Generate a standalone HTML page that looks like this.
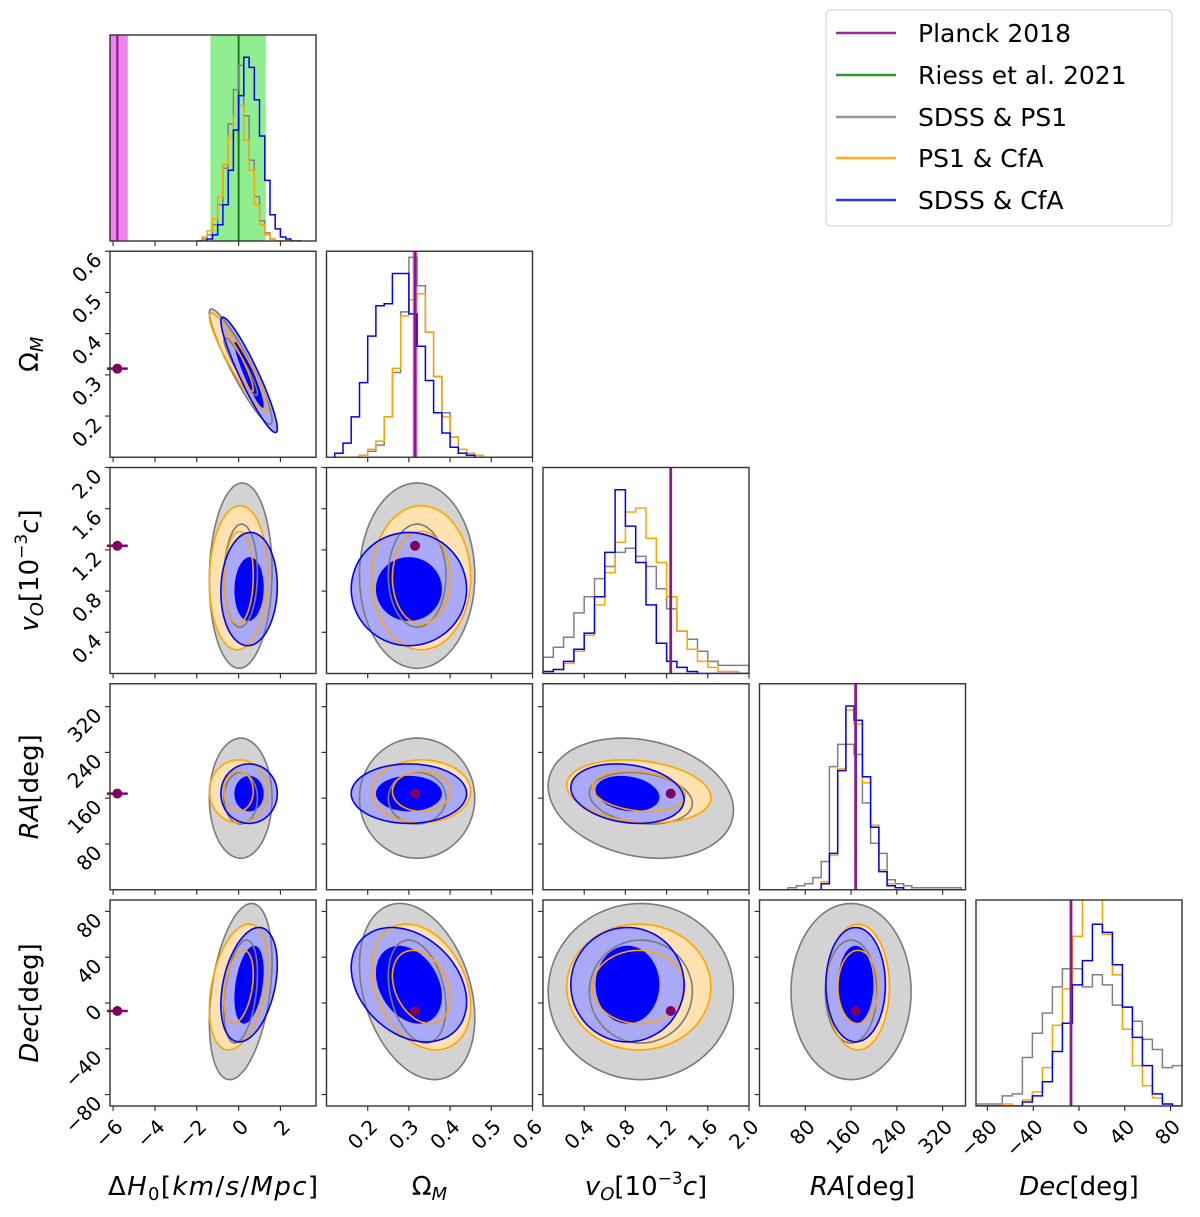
<!DOCTYPE html>
<html><head><meta charset="utf-8"><style>
html,body{margin:0;padding:0;background:#fff;}
svg{display:block;font-family:"DejaVu Sans","Liberation Sans",sans-serif;}
</style></head><body>
<svg id="chart" width="1200" height="1217" viewBox="0 0 1200 1217" xmlns="http://www.w3.org/2000/svg">
<defs id="defs"></defs>
<g id="panels"></g>
<g id="legend">
  <rect x="826" y="10" width="346" height="216" rx="5" fill="#fff" stroke="#d6d6d6" stroke-width="1.2"/>
  <g><line x1="836" y1="33" x2="896" y2="33" stroke="#9a2a9a" stroke-width="2.5"/><text x="918" y="42" font-size="25">Planck 2018</text></g>
  <g><line x1="836" y1="75" x2="896" y2="75" stroke="#2f9a2f" stroke-width="2.5"/><text x="918" y="84" font-size="25">Riess et al. 2021</text></g>
  <g><line x1="836" y1="117" x2="896" y2="117" stroke="#999" stroke-width="2.5"/><text x="918" y="126" font-size="25">SDSS &amp; PS1</text></g>
  <g><line x1="836" y1="158" x2="896" y2="158" stroke="#ffae1a" stroke-width="2.5"/><text x="918" y="167" font-size="25">PS1 &amp; CfA</text></g>
  <g><line x1="836" y1="200" x2="896" y2="200" stroke="#3030ff" stroke-width="2.5"/><text x="918" y="209" font-size="25">SDSS &amp; CfA</text></g>
</g>
</svg>
<script>
// ---- data ----
const paramNames = ["H0","OmegaM","vO","RA","Dec"];
const paramRanges = [[-6.15,3.7],[0.1,0.6],[0,2],[0,360],[-90,90]];
const xTickValues = [[-6,-4,-2,0,2],[0.2,0.3,0.4,0.5,0.6],[0.4,0.8,1.2,1.6,2.0],[80,160,240,320],[-80,-40,0,40,80]];
const xTickLabels = [["−6","−4","−2","0","2"],["0.2","0.3","0.4","0.5","0.6"],["0.4","0.8","1.2","1.6","2.0"],["80","160","240","320"],["−80","−40","0","40","80"]];
const planckValues = [-5.8,0.315,1.24,168,-7];
const planckH0Band = [-6.3,-5.3];
const planckOmBand = [0.309,0.321];
const riessValue = 0;
const riessBand = [-1.35,1.3];
const planckH0Err = 0.5;
// histogram bins: [start, width]
const histBins = [[-2.0,0.25],[0.12,0.02],[0,0.1],[7,14.4],[-93.2,8.74]];
const histGrey = [
 [0,0.01,0.03,0.08,0.18,0.36,0.58,0.75,0.87,0.62,0.40,0.22,0.10,0.04,0.01,0,0,0,0,0],
 [0,0,0,0.01,0.03,0.06,0.2,0.42,0.72,0.99,0.85,0.62,0.40,0.22,0.10,0.04,0.01,0],
 [0.08,0.13,0.18,0.30,0.38,0.47,0.53,0.6,0.62,0.58,0.53,0.42,0.32,0.21,0.17,0.11,0.06,0.04,0.04,0.04],
 [0,0,0,0.01,0.02,0.03,0.06,0.14,0.61,0.72,0.72,0.67,0.43,0.23,0.18,0.05,0.03,0.02,0.01,0.01,0.01,0.01,0.01,0.01],
 [0.01,0.01,0.01,0.05,0.06,0.24,0.36,0.46,0.59,0.68,0.68,0.59,0.65,0.6,0.5,0.49,0.42,0.33,0.28,0.19,0.2]
];
const histOrange = [
 [0,0.02,0.05,0.11,0.22,0.38,0.52,0.62,0.67,0.50,0.35,0.18,0.08,0.03,0.01,0,0,0,0,0],
 [0,0,0,0.01,0.04,0.08,0.20,0.44,0.70,0.78,0.81,0.62,0.40,0.20,0.10,0.04,0.02,0.01],
 [0.01,0.02,0.05,0.11,0.19,0.34,0.50,0.65,0.80,0.82,0.67,0.55,0.38,0.21,0.12,0.06,0.03,0.01,0.01,0],
 [0,0,0,0,0,0,0,0.04,0.17,0.6,0.89,0.82,0.53,0.32,0.1,0.03,0.01,0,0,0,0,0,0,0],
 [0,0,0,0.01,0,0.03,0.07,0.19,0.4,0.58,0.84,1.05,1.05,0.85,0.65,0.38,0.2,0.1,0.04,0.01,0]
];
const histBlue = [
 [0,0,0.01,0.03,0.08,0.18,0.35,0.55,0.72,0.91,0.86,0.70,0.52,0.30,0.13,0.06,0.02,0.01,0,0],
 [0.02,0.07,0.20,0.37,0.60,0.75,0.76,0.91,0.91,0.71,0.55,0.38,0.22,0.12,0.05,0.02,0.01,0],
 [0.01,0.02,0.06,0.12,0.2,0.38,0.6,0.91,0.73,0.55,0.34,0.15,0.06,0.03,0.01,0,0,0,0,0],
 [0,0,0,0,0,0,0,0.03,0.18,0.59,0.91,0.84,0.56,0.31,0.09,0.02,0.01,0,0,0,0,0,0,0],
 [0,0,0,0,0,0.02,0.05,0.12,0.27,0.41,0.6,0.72,0.9,0.86,0.7,0.49,0.34,0.2,0.06,0.01,0]
];
// contour summaries per param: [center, innerHalfWidth, outerHalfWidth]
const contourGrey = [[0.1,0.8,1.5],[0.32,0.07,0.14],[0.95,0.5,0.9],[160,45,105],[10,45,77]];
const contourOrange = [[0.0,0.7,1.4],[0.33,0.07,0.12],[0.93,0.45,0.7],[172,35,55],[14,32,55]];
const contourBlue = [[0.5,0.7,1.35],[0.30,0.08,0.14],[0.82,0.31,0.55],[168,31,52],[16,34,50]];
// correlation per pair "i-j"
const pairCorr = {"0-1":-0.93,"0-2":0.05,"0-3":0,"0-4":0.35,"1-2":0,"1-3":0,"1-4":-0.3,"2-3":-0.2,"2-4":0,"3-4":0};

// ---- layout ----
const NS="http://www.w3.org/2000/svg";
const PX0=110, PSTEP=216.5, PY0=35, PYSTEP=216.25, PW=206;
function colX(i){return PX0+PSTEP*i;}
function rowY(j){return PY0+PYSTEP*j;}
function sx(p,v){const r=paramRanges[p];return colX(p)+(v-r[0])/(r[1]-r[0])*PW;}
function sy(p,row,v){const r=paramRanges[p];return rowY(row)+PW-(v-r[0])/(r[1]-r[0])*PW;}
function hy(row,v){return rowY(row)+PW-v*PW*0.98;}
function mk(tag,attrs,parent){const e=document.createElementNS(NS,tag);for(const k in attrs)e.setAttribute(k,attrs[k]);if(parent)parent.appendChild(e);return e;}
const panels=document.getElementById('panels');
const defs=document.getElementById('defs');

function ellipsePath(px,py,row,cx,cy,ax,ay,rho){
  let d="";const s=Math.sqrt(1-rho*rho);
  for(let k=0;k<=72;k++){const t=k/72*2*Math.PI;
    const x=cx+ax*Math.cos(t), y=cy+ay*(rho*Math.cos(t)+s*Math.sin(t));
    d+=(k?"L":"M")+sx(px,x).toFixed(1)+","+sy(py,row,y).toFixed(1);}
  return d+"Z";
}
function stepPath(p,row,vals){
  const b=histBins[p];let d="M"+sx(p,b[0]).toFixed(1)+","+hy(row,0).toFixed(1);
  vals.forEach((v,k)=>{const x0=sx(p,b[0]+k*b[1]),x1=sx(p,b[0]+(k+1)*b[1]);
    d+="L"+x0.toFixed(1)+","+hy(row,v).toFixed(1)+"L"+x1.toFixed(1)+","+hy(row,v).toFixed(1);});
  d+="L"+sx(p,b[0]+vals.length*b[1]).toFixed(1)+","+hy(row,0).toFixed(1);
  return d;
}

for(let row=0;row<5;row++){
  for(let col=0;col<=row;col++){
    const x0=colX(col), y0=rowY(row);
    const g=mk('g',{},panels);
    
    
    const cid='clip'+row+'_'+col;
    const cp=mk('clipPath',{id:cid},defs);mk('rect',{x:x0,y:y0,width:PW,height:PW},cp);
    const inner=mk('g',{'clip-path':'url(#'+cid+')'},g);
    if(row===col){
      const p=col;
      if(p===0){
        const b1=mk('rect',{x:sx(0,planckH0Band[0]),y:y0,width:sx(0,planckH0Band[1])-sx(0,planckH0Band[0]),height:PW,fill:'#ee82ee'},inner);
        
        const b2=mk('rect',{x:sx(0,riessBand[0]),y:y0,width:sx(0,riessBand[1])-sx(0,riessBand[0]),height:PW,fill:'#90ee90'},inner);
        
        const rl=mk('line',{x1:sx(0,riessValue),x2:sx(0,riessValue),y1:y0,y2:y0+PW,stroke:'#1f7a1f','stroke-width':2},inner);
        
      }
      if(p===1){
        const b=mk('rect',{x:sx(1,planckOmBand[0]),y:y0,width:sx(1,planckOmBand[1])-sx(1,planckOmBand[0]),height:PW,fill:'#ee82ee'},inner);
        
      }
      [[histGrey,'#808080'],[histOrange,'#ffa500'],[histBlue,'#0000ff']].forEach(([h,c])=>{
        const path=mk('path',{d:stepPath(p,row,h[p]),fill:'none',stroke:c,'stroke-width':1.5},inner);
        
      });
      const pl=mk('line',{x1:sx(p,planckValues[p]),x2:sx(p,planckValues[p]),y1:y0,y2:y0+PW,stroke:'#8b1a8b','stroke-width':p===0?2.2:2.8},inner);
      
    } else {
      const px=col, py=row, rho=pairCorr[px+'-'+py];
      const sets=[[contourGrey,'#d3d3d3','#8c8c8c','#7a7a7a'],[contourOrange,'#ffe2b0',null,'#ffa500'],[contourBlue,'#a9a9f5','#0000ff','#0000ff']];
      sets.forEach(([c,fo,fi])=>{
        const o=mk('path',{d:ellipsePath(px,py,row,c[px][0],c[py][0],c[px][2],c[py][2],rho),fill:fo},inner);
        
        if(fi){const i=mk('path',{d:ellipsePath(px,py,row,c[px][0],c[py][0],c[px][1],c[py][1],rho),fill:fi},inner);
          }
      });
      sets.forEach(([c,fo,fi,lc])=>{
        [2,1].forEach(k=>{
          if(lc==='#0000ff'&&k===1)return;
          const l=mk('path',{d:ellipsePath(px,py,row,c[px][0],c[py][0],c[px][k],c[py][k],rho),fill:'none',stroke:lc,'stroke-width':1.6},inner);
          
        });
      });
      const cx=col===0?sx(0,planckValues[0]):sx(px,planckValues[px]);
      const cy=sy(py,row,planckValues[py]);
      if(col===0){
        const eb=mk('line',{x1:sx(0,planckValues[0]-planckH0Err),x2:sx(0,planckValues[0]+planckH0Err),y1:cy,y2:cy,stroke:'#800080','stroke-width':2.5},g);
        
      }
      const dot=mk('circle',{cx:cx,cy:cy,r:5,fill:'#800060'},g);
      
    }
    const fr=mk('rect',{x:x0,y:y0,width:PW,height:PW,fill:'none',stroke:'#333','stroke-width':1.4},g);
    
    // x ticks
    xTickValues[col].forEach((v,k)=>{
      const tx=sx(col,v);
      if(tx<x0-1||tx>x0+PW+1)return;
      mk('line',{x1:tx,x2:tx,y1:y0+PW,y2:y0+PW+5,stroke:'#333','stroke-width':1.2},g);
      if(row===4){
        const t=mk('text',{x:tx+11,y:y0+PW+22,'font-size':20,'text-anchor':'end',transform:'rotate(-45 '+(tx+11)+' '+(y0+PW+22)+')'},g);
        t.textContent=xTickLabels[col][k];
        
        
      }
    });
    // y ticks
    if(row!==col){
      xTickValues[row].forEach((v,k)=>{
        const ty=sy(row,row,v);
        if(ty<y0-1||ty>y0+PW+1)return;
        mk('line',{x1:x0-5,x2:x0,y1:ty,y2:ty,stroke:'#333','stroke-width':1.2},g);
        if(col===0){
          const t=mk('text',{x:x0-7,y:ty+10,'font-size':20,'text-anchor':'end',transform:'rotate(-45 '+(x0-7)+' '+(ty+10)+')'},g);
          t.textContent=xTickLabels[row][k];
          
          
        }
      });
    }
  }
}
// axis titles
const xTitles=[
 '<tspan>Δ</tspan><tspan font-style="italic">H</tspan><tspan font-size="18" dy="5">0</tspan><tspan dy="-5">[</tspan><tspan font-style="italic">km</tspan>/<tspan font-style="italic">s</tspan>/<tspan font-style="italic">Mpc</tspan>]',
 '<tspan>Ω</tspan><tspan font-style="italic" font-size="18" dy="5">M</tspan>',
 '<tspan font-style="italic">v</tspan><tspan font-style="italic" font-size="18" dy="5">O</tspan><tspan dy="-5">[10</tspan><tspan font-size="17" dy="-11">−3</tspan><tspan font-style="italic" dy="11">c</tspan>]',
 '<tspan font-style="italic">RA</tspan>[deg]',
 '<tspan font-style="italic">Dec</tspan>[deg]'];
const xTitleW=[210,0,0,0,0];
xTitles.forEach((h,i)=>{
  const t=mk('text',{x:colX(i)+103,y:1195,'font-size':26,'text-anchor':'middle'},document.getElementById('chart'));
  t.innerHTML=h;
  if(xTitleW[i])t.setAttribute('textLength',xTitleW[i]);
  
  
});
const yTitles=[null,
 '<tspan>Ω</tspan><tspan font-style="italic" font-size="18" dy="5">M</tspan>',
 '<tspan font-style="italic">v</tspan><tspan font-style="italic" font-size="18" dy="5">O</tspan><tspan dy="-5">[10</tspan><tspan font-size="17" dy="-11">−3</tspan><tspan font-style="italic" dy="11">c</tspan>]',
 '<tspan font-style="italic">RA</tspan>[deg]',
 '<tspan font-style="italic">Dec</tspan>[deg]'];
yTitles.forEach((h,i)=>{
  if(!h)return;
  const cy=rowY(i)+103;
  const t=mk('text',{x:38,y:cy,'font-size':26,'text-anchor':'middle',transform:'rotate(-90 38 '+cy+')'},document.getElementById('chart'));
  t.innerHTML=h;
  
  
});
</script>
</body></html>
